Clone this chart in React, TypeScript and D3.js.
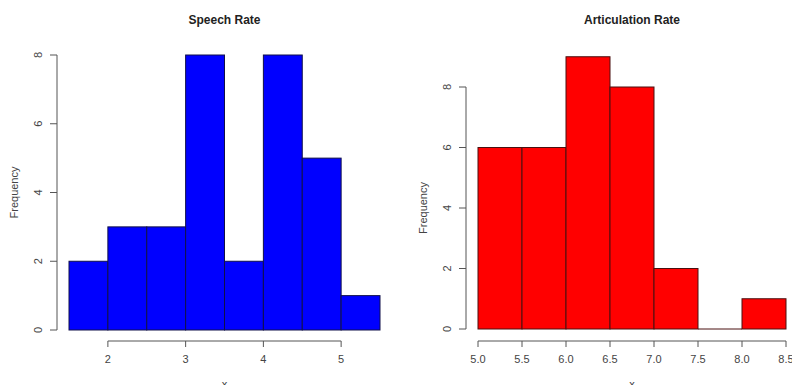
import React, { useEffect, useRef } from "react";
import * as d3 from "d3";

// histogram bins (breaks) and counts
const speechBreaks = [1.5, 2, 2.5, 3, 3.5, 4, 4.5, 5, 5.5];
const speechCounts = [2, 3, 3, 8, 2, 8, 5, 1];
const speechTicks = [2, 3, 4, 5];

const articBreaks = [5, 5.5, 6, 6.5, 7, 7.5, 8, 8.5];
const articCounts = [6, 6, 9, 8, 2, 0, 1];
const articTicks = [5, 5.5, 6, 6.5, 7, 7.5, 8, 8.5];

const freqTicks = [0, 2, 4, 6, 8];

const panels = [
  {
    title: "Speech Rate",
    breaks: speechBreaks,
    counts: speechCounts,
    xTicks: speechTicks,
    fmt: (d: number) => d3.format("d")(d),
    fill: "#0000ff",
    stroke: "#10104a",
    xRange: [69, 380],
    yRange: [330, 55],
    axisX: 57,
    axisY: 341,
  },
  {
    title: "Articulation Rate",
    breaks: articBreaks,
    counts: articCounts,
    xTicks: articTicks,
    fmt: (d: number) => d3.format(".1f")(d),
    fill: "#ff0000",
    stroke: "#4a1010",
    xRange: [478, 786],
    yRange: [329, 87],
    axisX: 466,
    axisY: 341,
  },
];

const font = "'Liberation Sans', Arial, sans-serif";
const grey = "#555";

const App = () => {
  const ref = useRef<SVGSVGElement>(null);

  useEffect(() => {
    const svg = d3.select(ref.current);
    svg.selectAll("*").remove();

    panels.forEach((p) => {
      const g = svg.append("g");
      const x = d3
        .scaleLinear()
        .domain([p.breaks[0], p.breaks[p.breaks.length - 1]])
        .range(p.xRange);
      const y = d3.scaleLinear().domain([0, 8]).range(p.yRange);

      const bins = p.counts.map((c, i) => ({ x0: p.breaks[i], x1: p.breaks[i + 1], c }));

      g.selectAll("rect")
        .data(bins.filter((d) => d.c > 0))
        .enter()
        .append("rect")
        .attr("x", (d) => x(d.x0))
        .attr("y", (d) => y(d.c))
        .attr("width", (d) => x(d.x1) - x(d.x0))
        .attr("height", (d) => y(0) - y(d.c))
        .attr("fill", p.fill)
        .attr("stroke", p.stroke)
        .attr("stroke-width", 1);

      // empty bins are drawn as a flat line on the baseline, like R does
      g.selectAll("line.empty")
        .data(bins.filter((d) => d.c === 0))
        .enter()
        .append("line")
        .attr("class", "empty")
        .attr("x1", (d) => x(d.x0))
        .attr("x2", (d) => x(d.x1))
        .attr("y1", y(0))
        .attr("y2", y(0))
        .attr("stroke", p.stroke);

      // x axis, R style: line only from first to last tick
      const xa = g.append("g").attr("transform", `translate(0,${p.axisY})`);
      xa.append("line")
        .attr("x1", x(p.xTicks[0]))
        .attr("x2", x(p.xTicks[p.xTicks.length - 1]))
        .attr("stroke", grey);
      xa.selectAll("line.t")
        .data(p.xTicks)
        .enter()
        .append("line")
        .attr("class", "t")
        .attr("x1", (d) => x(d))
        .attr("x2", (d) => x(d))
        .attr("y2", 6)
        .attr("stroke", grey);
      xa.selectAll("text")
        .data(p.xTicks)
        .enter()
        .append("text")
        .attr("x", (d) => x(d))
        .attr("y", 22)
        .attr("text-anchor", "middle")
        .attr("font-size", 11)
        .attr("font-family", font)
        .attr("fill", "#444")
        .text(p.fmt);

      // y axis
      const ya = g.append("g").attr("transform", `translate(${p.axisX},0)`);
      ya.append("line")
        .attr("y1", y(0))
        .attr("y2", y(8))
        .attr("stroke", grey);
      ya.selectAll("line.t")
        .data(freqTicks)
        .enter()
        .append("line")
        .attr("class", "t")
        .attr("y1", (d) => y(d))
        .attr("y2", (d) => y(d))
        .attr("x2", -7)
        .attr("stroke", grey);
      ya.selectAll("text")
        .data(freqTicks)
        .enter()
        .append("text")
        .attr("transform", (d) => `translate(-15,${y(d)}) rotate(-90)`)
        .attr("text-anchor", "middle")
        .attr("font-size", 11)
        .attr("font-family", font)
        .attr("fill", "#444")
        .text((d) => d);

      ya.append("text")
        .attr("transform", `translate(-39,${(y(0) + y(8)) / 2}) rotate(-90)`)
        .attr("text-anchor", "middle")
        .attr("font-size", 11)
        .attr("font-family", font)
        .attr("fill", "#444")
        .text("Frequency");

      const cx = (p.xRange[0] + p.xRange[1]) / 2;
      g.append("text")
        .attr("x", cx)
        .attr("y", 24)
        .attr("text-anchor", "middle")
        .attr("font-size", 12)
        .attr("font-weight", "bold")
        .attr("font-family", font)
        .attr("fill", "#222")
        .text(p.title);

      g.append("text")
        .attr("x", cx)
        .attr("y", 388)
        .attr("text-anchor", "middle")
        .attr("font-size", 11)
        .attr("font-family", font)
        .attr("fill", "#444")
        .text("x");
    });
  }, []);

  return (
    <svg
      ref={ref}
      width={792}
      height={385}
      style={{ position: "absolute", left: 0, top: 0, background: "#fff" }}
    />
  );
};

export default App;
